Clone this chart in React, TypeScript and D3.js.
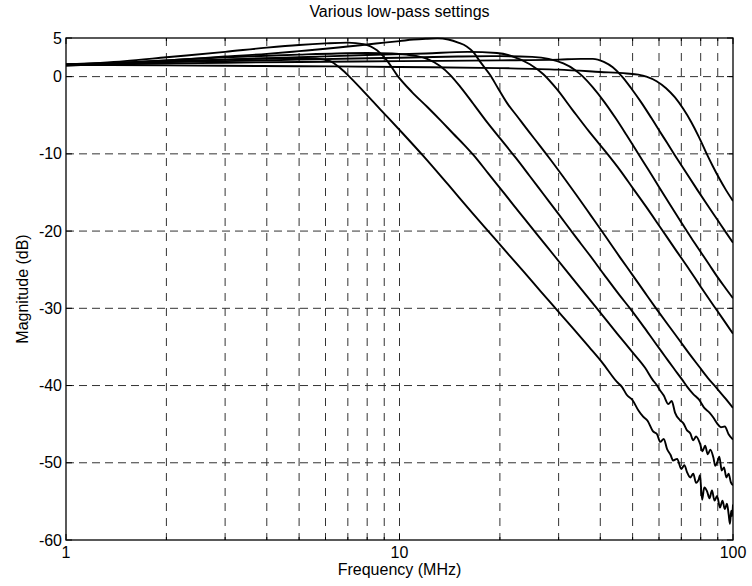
import React from "react";
import * as d3 from "d3";

const TITLE = "Various low-pass settings";
const X_LABEL = "Frequency (MHz)";
const Y_LABEL = "Magnitude (dB)";
const xTickValues = [1, 10, 100];
const xTickLabels = ["1", "10", "100"];
const xGridValues = [2, 3, 4, 5, 6, 7, 8, 9, 10, 20, 30, 40, 50, 60, 70, 80, 90];
const yTickValues = [5, 0, -10, -20, -30, -40, -50, -60];
const yGridValues = [0, -10, -20, -30, -40, -50];

type Pt = [number, number];

const lp1: Pt[] = [
  [1, 1.6], [1.5, 1.8], [2, 2.0], [2.5, 2.1], [3, 2.2], [4, 2.35], [5, 2.4], [5.6, 2.35], [6.19, 2.0], [6.6, 1.2],
  [7, 0.2], [7.8, -1.9], [8.74, -4.2], [10.2, -7.3], [11.8, -10.3], [14, -14.0], [16.5, -17.6], [18.7, -20.3],
  [21, -22.8], [23.5, -25.2], [26.5, -27.8], [29.5, -30.1], [33, -32.5], [37, -35.0], [40.5, -37.0],
  [44.8, -39.5], [46.5, -40.2], [48, -41.2], [50, -41.9], [52, -43.2], [53.7, -44], [55.5, -44.6],
  [57.5, -45.9], [59.2, -46.3], [60.5, -47.3], [62, -46.9], [63.4, -48.2], [65, -49.0],
  [66.1, -49.7], [68, -49.5], [70, -50.8], [71.5, -50.3], [72.8, -51.2], [74.5, -51.9], [76, -51.4],
  [77.5, -52.6], [79, -52.1], [79.6, -51.6], [80.8, -54.8], [82, -53.2], [83.6, -53.7], [85, -54.6],
  [86.5, -53.6], [88, -54.9], [89.6, -54.3], [91.4, -55.8], [93, -54.9], [94.5, -56.0], [95.9, -55.3],
  [97, -56.6], [97.9, -57.9], [98.8, -56.2], [99.4, -56.9], [100, -55.4],
];

const lp2: Pt[] = [
  [1, 1.5], [1.5, 2.0], [2, 2.5], [3, 3.2], [4, 3.75], [5, 4.1], [6, 4.3], [7, 4.4], [7.8, 4.2], [8.56, 3.4],
  [9.2, 2.0], [9.83, 0.2], [10.9, -2.0], [12.1, -3.9], [13.3, -5.7], [14.5, -7.4], [15.6, -8.8], [16.7, -10.2],
  [18.5, -12.6], [20.5, -15.0], [23, -17.7], [25.7, -20.3], [29, -23.1], [34, -26.8], [39.4, -30.2],
  [45, -33.3], [50, -35.7], [54.5, -37.7], [57.5, -39.3], [59, -39.9], [60.4, -40.6], [62, -41.3],
  [64, -42.4], [65.5, -42.0], [67, -43.5], [69.4, -44.5], [71, -44.9], [72.8, -45.8], [74.5, -46.2],
  [76, -47.1], [77.5, -46.6], [79.6, -47.5], [81, -48.5], [82.5, -47.8], [84, -48.9], [85.5, -48.3],
  [87.3, -49.3], [88.5, -50.4], [89.6, -50], [91, -49.2], [92.5, -51.0], [94, -50.6], [95.5, -51.9],
  [97, -51.4], [98.5, -52.5], [100, -52.9],
];

const lp3: Pt[] = [
  [1, 1.4], [1.5, 1.8], [2, 2.1], [3, 2.5], [4, 2.7], [5, 2.85], [6.5, 3.0], [8, 3.05], [9.5, 3.0], [10.5, 2.85],
  [11.3, 2.65], [12.1, 2.3], [13.2, 1.4], [14.2, 0.2], [15.2, -1.3], [16.5, -3.3], [18.3, -5.9], [20.2, -8.2],
  [22.3, -10.5], [24.5, -12.8], [27, -15.2], [30, -17.8], [33.4, -20.5], [37, -23.0], [41, -25.6],
  [45.5, -28.2], [49.7, -30.3], [54, -32.4], [58.5, -34.5], [62.5, -36.2], [66.5, -37.8], [70.3, -39.2],
  [73, -40.2], [76, -41.1], [79, -41.8], [82, -42.9], [85, -43.5], [87.5, -44.2], [89.6, -44.9],
  [92, -45.4], [94.5, -45.3], [97, -46.3], [100, -47.0],
];

const lp4: Pt[] = [
  [1, 1.5], [1.5, 1.8], [2, 2.1], [3, 2.6], [4, 2.95], [5, 3.3], [6, 3.6], [7, 3.9], [8, 4.15], [9, 4.4],
  [10, 4.6], [11, 4.8], [12, 4.9], [13, 4.95], [14, 4.8], [15, 4.4], [15.9, 3.9], [16.7, 3.1], [17.4, 2.0],
  [18.7, 0.2], [19.8, -1.6], [21, -3.4], [22.5, -5.1], [24.3, -7.0], [26.2, -8.8], [28.2, -10.6],
  [31, -13.0], [34, -15.4], [37.5, -18.0], [41.5, -20.7], [46, -23.5], [50, -25.7], [54.5, -28.0],
  [59, -30.1], [64, -32.2], [69, -34.1], [74, -35.9], [79, -37.5], [84, -39.0], [89.6, -40.4],
  [95, -41.7], [100, -42.9],
];

const lp5: Pt[] = [
  [1, 1.5], [2, 1.9], [3, 2.2], [5, 2.5], [8, 2.8], [12, 3.0], [16, 3.2], [19.6, 3.05], [21.9, 2.6],
  [24.6, 1.6], [27, 0.3], [29.6, -1.6], [33, -4.3], [37, -7.1], [42, -10], [46, -12.2], [50, -14.4],
  [55, -16.9], [60.5, -19.5], [67, -22.3], [74, -25.0], [80, -27.2], [87.3, -29.6], [93, -31.3], [100, -33.3],
];

const lp6: Pt[] = [
  [1, 1.6], [2, 1.9], [3, 2.0], [5, 2.2], [10, 2.45], [15, 2.6], [20, 2.65], [25, 2.55], [28, 2.3],
  [31, 1.7], [33.5, 0.9], [35.5, 0.0], [38, -1.4], [41, -3.2], [44.5, -5.4], [48, -7.6], [52, -10.0],
  [56, -12.2], [60, -14.3], [65, -16.7], [70, -18.9], [75, -20.9], [80, -22.7], [85, -24.4], [90, -26.0],
  [95, -27.4], [100, -28.7],
];

const lp7: Pt[] = [
  [1, 1.5], [2, 1.7], [3, 1.8], [5, 1.9], [10, 2.0], [20, 2.1], [30, 2.2], [35, 2.3], [38, 2.3], [41, 1.9],
  [43.6, 1.2], [46.5, 0.0], [49.5, -1.5], [53, -3.3], [57, -5.4], [62, -7.9], [67, -10.2], [72, -12.3],
  [78, -14.6], [84, -16.7], [90, -18.6], [95, -20.1], [100, -21.5],
];

const lp8: Pt[] = [
  [1, 1.5], [2, 1.45], [3, 1.4], [5, 1.35], [10, 1.25], [20, 1.1], [30, 0.9], [40, 0.6], [48, 0.4],
  [52, 0.25], [55, 0.0], [59, -0.6], [63, -1.5], [67, -2.7], [71, -4.2], [75, -5.9], [79, -7.8], [83, -9.8],
  [87, -11.6], [91, -13.2], [95, -14.6], [100, -16.1],
];

const curves: Pt[][] = [lp1, lp2, lp3, lp4, lp5, lp6, lp7, lp8];

const FONT = "'Liberation Sans', Arial, Helvetica, sans-serif";

export default function App() {
  const W = 752;
  const H = 586;
  const left = 66, right = 733, top = 38, bottom = 540;
  const x = d3.scaleLog().domain([1, 100]).range([left, right]);
  const y = d3.scaleLinear().domain([-60, 5]).range([bottom, top]);
  const line = d3
    .line<Pt>()
    .x((d) => x(d[0]))
    .y((d) => y(d[1]))
    .curve(d3.curveMonotoneX);

  return (
    <svg
      width={W}
      height={H}
      viewBox={`0 0 ${W} ${H}`}
      style={{ position: "absolute", left: 0, top: 0, background: "#fff" }}
      fontFamily={FONT}
    >
      <rect x={0} y={0} width={W} height={H} fill="#fff" />
      <defs>
        <clipPath id="plotClip">
          <rect x={left} y={top - 1} width={right - left} height={bottom - top + 1} />
        </clipPath>
      </defs>
      {xGridValues.map((v) => (
        <line
          key={"gx" + v}
          x1={x(v)}
          x2={x(v)}
          y1={top}
          y2={bottom}
          stroke="#333"
          strokeWidth={1}
          strokeDasharray="8,7"
        />
      ))}
      {yGridValues.map((v) => (
        <line
          key={"gy" + v}
          x1={left}
          x2={right}
          y1={y(v)}
          y2={y(v)}
          stroke="#333"
          strokeWidth={1}
          strokeDasharray="8,5"
        />
      ))}
      {yTickValues.map((v) => (
        <g key={"ty" + v}>
          <line x1={left} x2={left + 6} y1={y(v)} y2={y(v)} stroke="#000" />
          <line x1={right} x2={right - 6} y1={y(v)} y2={y(v)} stroke="#000" />
        </g>
      ))}
      {xGridValues.concat(xTickValues).map((v) => {
        const len = xTickValues.includes(v) ? 6 : 3;
        return (
          <g key={"tx" + v}>
            <line x1={x(v)} x2={x(v)} y1={bottom} y2={bottom - len} stroke="#000" />
            <line x1={x(v)} x2={x(v)} y1={top} y2={top + len} stroke="#000" />
          </g>
        );
      })}
      <g clipPath="url(#plotClip)">
        {curves.map((c, i) => (
          <path
            key={"c" + i}
            d={line(c) || ""}
            fill="none"
            stroke="#000"
            strokeWidth={1.9}
            strokeLinejoin="round"
          />
        ))}
      </g>
      <rect
        x={left}
        y={top}
        width={right - left}
        height={bottom - top}
        fill="none"
        stroke="#000"
        strokeWidth={1.3}
      />
      {yTickValues.map((v) => (
        <text
          key={"ly" + v}
          x={left - 4}
          y={y(v)}
          textAnchor="end"
          dominantBaseline="central"
          fontSize={16}
          fill="#000"
        >
          {v}
        </text>
      ))}
      {xTickValues.map((v, i) => (
        <text
          key={"lx" + v}
          x={x(v)}
          y={558}
          textAnchor="middle"
          fontSize={16}
          fill="#000"
        >
          {xTickLabels[i]}
        </text>
      ))}
      <text x={(left + right) / 2} y={575} textAnchor="middle" fontSize={16} fill="#000">
        {X_LABEL}
      </text>
      <text
        transform={`translate(28,${(top + bottom) / 2}) rotate(-90)`}
        textAnchor="middle"
        fontSize={16}
        fill="#000"
      >
        {Y_LABEL}
      </text>
      <text x={(left + right) / 2} y={17} textAnchor="middle" fontSize={16} fill="#000">
        {TITLE}
      </text>
    </svg>
  );
}
